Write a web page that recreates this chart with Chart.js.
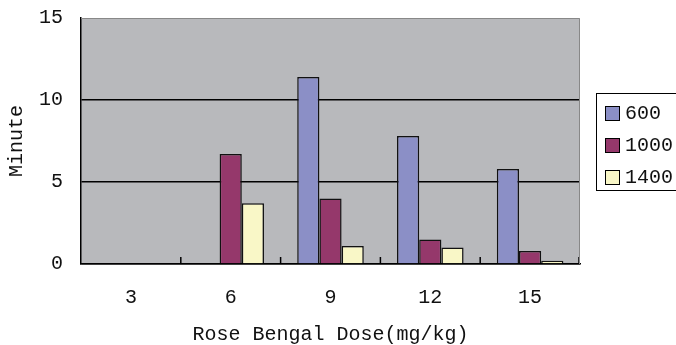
<!DOCTYPE html>
<html>
<head>
<meta charset="utf-8">
<script src="https://cdn.jsdelivr.net/npm/chart.js@4"></script>
<style>
  html, body { margin: 0; padding: 0; background: #fff; }
  #wrap { position: relative; width: 676px; height: 345px; overflow: hidden; }
  #legend {
    position: absolute; left: 596px; top: 93px; width: 90px; height: 98px;
    border: 1px solid #000; box-sizing: border-box; padding-top: 3px;
    font: 20px "Liberation Mono", monospace; color: #111;
  }
  .row { height: 32px; display: flex; align-items: center; padding-left: 8px; }
  .sw { width: 13px; height: 13px; border: 1px solid #000; margin-right: 5px; flex: none; }
</style>
</head>
<body>
<div id="wrap">
  <canvas id="myChart" width="676" height="345"></canvas>
  <div id="legend"></div>
</div>
<script>
// ── données ──
const doses      = ['3', '6', '9', '12', '15'];
const seriesName = ['600', '1000', '1400'];
const min600     = [0, 0, 11.4, 7.8, 5.8];
const min1000    = [0, 6.7, 4.0, 1.5, 0.8];
const min1400    = [0, 3.7, 1.1, 1.0, 0.2];
const yTicks     = [0, 5, 10, 15];
const colors     = ['#8b8fc6', '#95386b', '#f9f7c7'];

const FONT = { family: '"Liberation Mono", monospace', size: 20 };

// fond gris + bordure haut/droite
const plotBg = {
  id: 'plotBg',
  beforeDraw(chart) {
    const { ctx, chartArea: a } = chart;
    ctx.save();
    ctx.fillStyle = '#b8b9bc';
    ctx.fillRect(a.left, a.top, a.right - a.left, a.bottom - a.top);
    ctx.restore();
  },
  afterDraw(chart) {
    const { ctx, chartArea: a } = chart;
    ctx.save();
    ctx.strokeStyle = '#888';
    ctx.lineWidth = 1;
    ctx.beginPath();
    ctx.moveTo(a.left, a.top + 0.5);
    ctx.lineTo(a.right - 0.5, a.top + 0.5);
    ctx.lineTo(a.right - 0.5, a.bottom);
    ctx.stroke();
    ctx.restore();
  }
};

// petites graduations vers l'intérieur entre catégories
const innerTicks = {
  id: 'innerTicks',
  afterDatasetsDraw(chart) {
    const { ctx, scales: { x }, chartArea: a } = chart;
    ctx.save();
    ctx.strokeStyle = '#000';
    ctx.lineWidth = 1.5;
    for (let i = 1; i <= doses.length; i++) {
      const bx = i < doses.length
        ? (x.getPixelForValue(i - 1) + x.getPixelForValue(i)) / 2
        : a.right - 1;
      ctx.beginPath();
      ctx.moveTo(bx, a.bottom - 7);
      ctx.lineTo(bx, a.bottom);
      ctx.stroke();
    }
    ctx.restore();
  }
};

const ctx = document.getElementById('myChart').getContext('2d');
const chart = new Chart(ctx, {
  type: 'bar',
  data: {
    labels: doses,
    datasets: [min600, min1000, min1400].map((d, i) => ({
      label: seriesName[i],
      data: d,
      backgroundColor: colors[i],
      borderColor: '#111',
      borderWidth: 1.5,
      categoryPercentage: 0.667,
      barPercentage: 1.0
    }))
  },
  options: {
    responsive: false,
    animation: false,
    devicePixelRatio: 1,
    layout: { padding: { top: 18, right: 96, left: 0, bottom: 0 } },
    plugins: { legend: { display: false }, tooltip: { enabled: false } },
    scales: {
      x: {
        afterFit: s => { s.height = 81; s.paddingLeft = 0; s.paddingRight = 0; },
        grid: { display: false, drawTicks: false },
        border: { display: true, color: '#000', width: 1.5 },
        ticks: { color: '#111', font: FONT, padding: 22 },
        title: { display: true, text: 'Rose Bengal Dose(mg/kg)', color: '#111',
                 font: { ...FONT, lineHeight: 1 }, padding: { top: 0, bottom: 0 } }
      },
      y: {
        min: 0, max: 15,
        afterFit: s => { s.width = 81; s.paddingTop = 0; s.paddingBottom = 0; },
        afterBuildTicks: s => { s.ticks = yTicks.map(v => ({ value: v })); },
        grid: {
          drawTicks: false,
          color: c => (c.tick && c.tick.value === 15 ? 'rgba(0,0,0,0)' : '#000'),
          lineWidth: 1.5
        },
        border: { display: true, color: '#000', width: 1.5 },
        ticks: { color: '#111', font: FONT, padding: 18 },
        title: { display: true, text: 'Minute', color: '#111',
                 font: FONT, padding: { top: 5, bottom: 0 } }
      }
    }
  },
  plugins: [plotBg, innerTicks]
});

// légende
const legend = document.getElementById('legend');
seriesName.forEach((name, i) => {
  const row = document.createElement('div');
  row.className = 'row';
  row.innerHTML = `<span class="sw" style="background:${colors[i]}"></span><span>${name}</span>`;
  legend.appendChild(row);
});
</script>
</body>
</html>
